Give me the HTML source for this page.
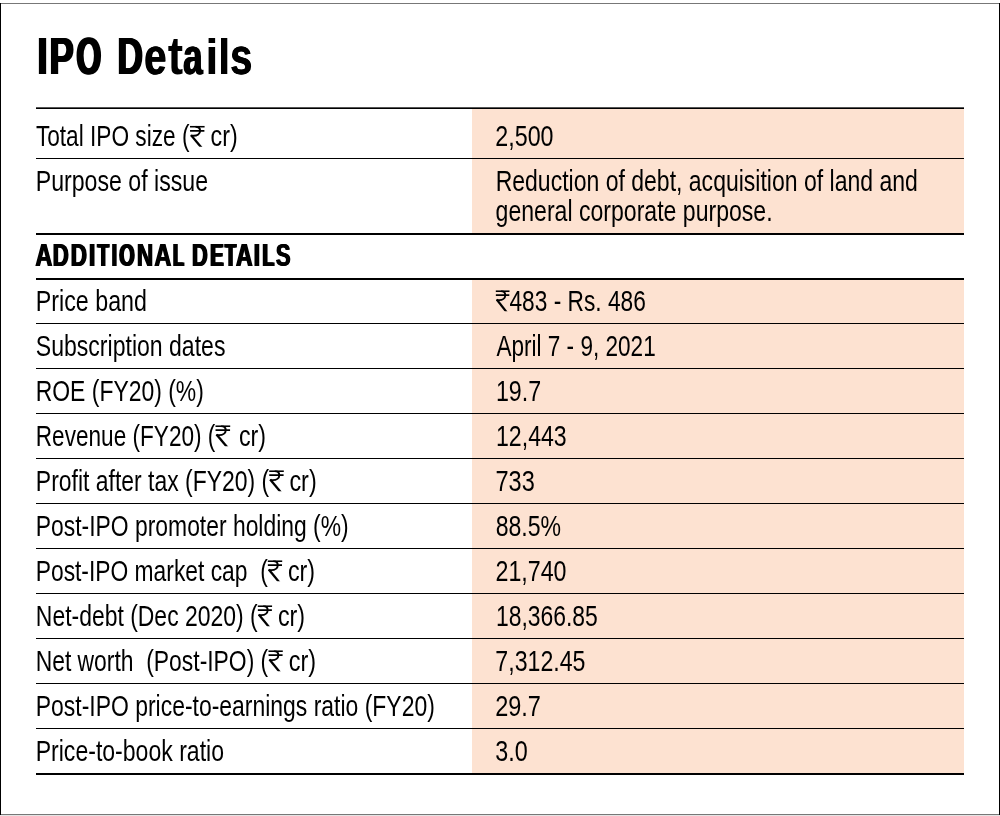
<!DOCTYPE html><html><head><meta charset="utf-8"><title>IPO Details</title><style>
html,body{margin:0;padding:0;background:#fff}
body{width:1000px;height:816px;position:relative;overflow:hidden;font-family:"Liberation Sans",sans-serif;color:#000}
.t{position:absolute;left:0;top:0;white-space:pre;line-height:1;display:block}
.r{position:absolute;left:0;top:0;display:block}
.l{position:absolute;left:36px;width:928px;background:#000}
.p{position:absolute;left:472px;width:492px;background:#fde2d1}
#w{position:absolute;left:0;top:0;width:1000px;height:816px;will-change:transform}
</style></head><body><div id="w">
<div style="position:absolute;left:0;top:3px;width:1000px;height:1px;background:#777"></div>
<div style="position:absolute;left:0;top:814px;width:1000px;height:1px;background:#777"></div>
<div style="position:absolute;left:0;top:815px;width:1000px;height:1px;background:#e4e4e4"></div>
<div style="position:absolute;left:0;top:3px;width:1px;height:812px;background:#000"></div>
<div style="position:absolute;left:999px;top:3px;width:1px;height:812px;background:#000"></div>
<div class="p" style="top:109px;height:124px"></div>
<div class="p" style="top:280px;height:493px"></div>
<div class="l" style="top:107px;height:1px;background:#555"></div><div class="l" style="top:108px;height:1px"></div>
<div class="l" style="top:158px;height:1px"></div>
<div class="l" style="top:233px;height:2px"></div>
<div class="l" style="top:278px;height:2px"></div>
<div class="l" style="top:323px;height:1px"></div>
<div class="l" style="top:368px;height:1px"></div>
<div class="l" style="top:413px;height:1px"></div>
<div class="l" style="top:458px;height:1px"></div>
<div class="l" style="top:503px;height:1px"></div>
<div class="l" style="top:548px;height:1px"></div>
<div class="l" style="top:593px;height:1px"></div>
<div class="l" style="top:638px;height:1px"></div>
<div class="l" style="top:683px;height:1px"></div>
<div class="l" style="top:728px;height:1px"></div>
<div class="l" style="top:773px;height:2px"></div>
<span class="t" style="font-size:29.40px;transform-origin:0 24.89px;transform:translate(35.78px,166.31px) scale(0.7867,1.0000)">Purpose of issue</span>
<span class="t" style="font-size:29.40px;transform-origin:0 24.89px;transform:translate(35.83px,285.71px) scale(0.7909,1.0000)">Price band</span>
<span class="t" style="font-size:29.40px;transform-origin:0 24.89px;transform:translate(35.80px,330.71px) scale(0.7843,1.0000)">Subscription dates</span>
<span class="t" style="font-size:29.40px;transform-origin:0 24.89px;transform:translate(35.72px,375.71px) scale(0.7800,1.0000)">ROE (FY20) (%)</span>
<span class="t" style="font-size:29.40px;transform-origin:0 24.89px;transform:translate(35.83px,510.71px) scale(0.7785,1.0000)">Post-IPO promoter holding (%)</span>
<span class="t" style="font-size:29.40px;transform-origin:0 24.89px;transform:translate(35.75px,690.71px) scale(0.7806,1.0000)">Post-IPO price-to-earnings ratio (FY20)</span>
<span class="t" style="font-size:29.40px;transform-origin:0 24.89px;transform:translate(35.70px,735.71px) scale(0.7842,1.0000)">Price-to-book ratio</span>
<span class="t" style="font-size:29.40px;transform-origin:0 24.89px;transform:translate(495.35px,121.31px) scale(0.7911,1.0000)">2,500</span>
<span class="t" style="font-size:29.40px;transform-origin:0 24.89px;transform:translate(495.64px,166.31px) scale(0.7830,1.0000)">Reduction of debt, acquisition of land and</span>
<span class="t" style="font-size:29.40px;transform-origin:0 24.89px;transform:translate(495.56px,196.31px) scale(0.7850,1.0000)">general corporate purpose.</span>
<span class="t" style="font-size:29.40px;transform-origin:0 24.89px;transform:translate(496.39px,330.71px) scale(0.7678,1.0000)">April 7 - 9, 2021</span>
<span class="t" style="font-size:29.40px;transform-origin:0 24.89px;transform:translate(495.89px,375.71px) scale(0.7915,1.0000)">19.7</span>
<span class="t" style="font-size:29.40px;transform-origin:0 24.89px;transform:translate(495.97px,420.71px) scale(0.7871,1.0000)">12,443</span>
<span class="t" style="font-size:29.40px;transform-origin:0 24.89px;transform:translate(495.53px,465.71px) scale(0.8011,1.0000)">733</span>
<span class="t" style="font-size:29.40px;transform-origin:0 24.89px;transform:translate(495.64px,510.71px) scale(0.7856,1.0000)">88.5%</span>
<span class="t" style="font-size:29.40px;transform-origin:0 24.89px;transform:translate(495.46px,555.71px) scale(0.7902,1.0000)">21,740</span>
<span class="t" style="font-size:29.40px;transform-origin:0 24.89px;transform:translate(495.97px,600.71px) scale(0.7790,1.0000)">18,366.85</span>
<span class="t" style="font-size:29.40px;transform-origin:0 24.89px;transform:translate(495.37px,645.71px) scale(0.7873,1.0000)">7,312.45</span>
<span class="t" style="font-size:29.40px;transform-origin:0 24.89px;transform:translate(495.19px,690.71px) scale(0.7994,1.0000)">29.7</span>
<span class="t" style="font-size:29.40px;transform-origin:0 24.89px;transform:translate(495.37px,735.71px) scale(0.7944,1.0000)">3.0</span>
<span class="t" style="font-size:29.40px;transform-origin:0 24.89px;transform:translate(35.91px,121.31px) scale(0.7704,1.0000)">Total IPO size (</span>
<svg class="r" role="img" aria-label="Rs" width="16.22" height="20.6" viewBox="0 0 15.5 20.6" preserveAspectRatio="none" style="transform:translate(189.22px,125.80px)"><g fill="none" stroke="#000"><path d="M0.75,0.9H14.7M0.8,5H14.5" stroke-width="1.75"/><path d="M6,0.9C9.4,0.9 10.4,3 10.4,5C10.4,8 7.6,9.9 4.2,9.9H1.5" stroke-width="1.9"/><path d="M1.7,9.3L12,22.2" stroke-width="2.25"/></g></svg>
<span class="t" style="font-size:29.40px;transform-origin:0 24.89px;transform:translate(210.54px,121.31px) scale(0.7918,1.0000)">cr)</span>
<span class="t" style="font-size:29.40px;transform-origin:0 24.89px;transform:translate(35.77px,420.71px) scale(0.7690,1.0000)">Revenue (FY20) (</span>
<svg class="r" role="img" aria-label="Rs" width="16.44" height="20.6" viewBox="0 0 15.5 20.6" preserveAspectRatio="none" style="transform:translate(214.70px,425.20px)"><g fill="none" stroke="#000"><path d="M0.75,0.9H14.7M0.8,5H14.5" stroke-width="1.75"/><path d="M6,0.9C9.4,0.9 10.4,3 10.4,5C10.4,8 7.6,9.9 4.2,9.9H1.5" stroke-width="1.9"/><path d="M1.7,9.3L12,22.2" stroke-width="2.25"/></g></svg>
<span class="t" style="font-size:29.40px;transform-origin:0 24.89px;transform:translate(238.99px,420.71px) scale(0.7904,1.0000)">cr)</span>
<span class="t" style="font-size:29.40px;transform-origin:0 24.89px;transform:translate(35.84px,465.71px) scale(0.7807,1.0000)">Profit after tax (FY20) (</span>
<svg class="r" role="img" aria-label="Rs" width="16.22" height="20.6" viewBox="0 0 15.5 20.6" preserveAspectRatio="none" style="transform:translate(268.42px,470.20px)"><g fill="none" stroke="#000"><path d="M0.75,0.9H14.7M0.8,5H14.5" stroke-width="1.75"/><path d="M6,0.9C9.4,0.9 10.4,3 10.4,5C10.4,8 7.6,9.9 4.2,9.9H1.5" stroke-width="1.9"/><path d="M1.7,9.3L12,22.2" stroke-width="2.25"/></g></svg>
<span class="t" style="font-size:29.40px;transform-origin:0 24.89px;transform:translate(289.41px,465.71px) scale(0.7962,1.0000)">cr)</span>
<span class="t" style="font-size:29.40px;transform-origin:0 24.89px;transform:translate(35.72px,555.71px) scale(0.7763,1.0000)">Post-IPO market cap  (</span>
<svg class="r" role="img" aria-label="Rs" width="16.00" height="20.6" viewBox="0 0 15.5 20.6" preserveAspectRatio="none" style="transform:translate(267.03px,560.20px)"><g fill="none" stroke="#000"><path d="M0.75,0.9H14.7M0.8,5H14.5" stroke-width="1.75"/><path d="M6,0.9C9.4,0.9 10.4,3 10.4,5C10.4,8 7.6,9.9 4.2,9.9H1.5" stroke-width="1.9"/><path d="M1.7,9.3L12,22.2" stroke-width="2.25"/></g></svg>
<span class="t" style="font-size:29.40px;transform-origin:0 24.89px;transform:translate(287.94px,555.71px) scale(0.7932,1.0000)">cr)</span>
<span class="t" style="font-size:29.40px;transform-origin:0 24.89px;transform:translate(35.84px,600.71px) scale(0.7803,1.0000)">Net-debt (Dec 2020) (</span>
<svg class="r" role="img" aria-label="Rs" width="15.89" height="20.6" viewBox="0 0 15.5 20.6" preserveAspectRatio="none" style="transform:translate(257.03px,605.20px)"><g fill="none" stroke="#000"><path d="M0.75,0.9H14.7M0.8,5H14.5" stroke-width="1.75"/><path d="M6,0.9C9.4,0.9 10.4,3 10.4,5C10.4,8 7.6,9.9 4.2,9.9H1.5" stroke-width="1.9"/><path d="M1.7,9.3L12,22.2" stroke-width="2.25"/></g></svg>
<span class="t" style="font-size:29.40px;transform-origin:0 24.89px;transform:translate(277.94px,600.71px) scale(0.7932,1.0000)">cr)</span>
<span class="t" style="font-size:29.40px;transform-origin:0 24.89px;transform:translate(35.66px,645.71px) scale(0.7782,1.0000)">Net worth  (Post-IPO) (</span>
<svg class="r" role="img" aria-label="Rs" width="15.89" height="20.6" viewBox="0 0 15.5 20.6" preserveAspectRatio="none" style="transform:translate(267.73px,650.20px)"><g fill="none" stroke="#000"><path d="M0.75,0.9H14.7M0.8,5H14.5" stroke-width="1.75"/><path d="M6,0.9C9.4,0.9 10.4,3 10.4,5C10.4,8 7.6,9.9 4.2,9.9H1.5" stroke-width="1.9"/><path d="M1.7,9.3L12,22.2" stroke-width="2.25"/></g></svg>
<span class="t" style="font-size:29.40px;transform-origin:0 24.89px;transform:translate(288.68px,645.71px) scale(0.7993,1.0000)">cr)</span>
<svg class="r" role="img" aria-label="Rs" width="15.22" height="20.6" viewBox="0 0 15.5 20.6" preserveAspectRatio="none" style="transform:translate(495.06px,290.20px)"><g fill="none" stroke="#000"><path d="M0.75,0.9H14.7M0.8,5H14.5" stroke-width="1.75"/><path d="M6,0.9C9.4,0.9 10.4,3 10.4,5C10.4,8 7.6,9.9 4.2,9.9H1.5" stroke-width="1.9"/><path d="M1.7,9.3L12,22.2" stroke-width="2.25"/></g></svg>
<span class="t" style="font-size:29.40px;transform-origin:0 24.89px;transform:translate(509.44px,285.71px) scale(0.7728,1.0000)">483 - Rs. 486</span>
<span class="t" style="font-size:31.40px;font-weight:bold;text-shadow:0.86px 0 0 #000,-0.86px 0 0 #000;transform-origin:0 26.58px;transform:translate(35.40px,239.72px) scale(0.7485,1.0000)">A</span>
<span class="t" style="font-size:31.40px;font-weight:bold;text-shadow:1.05px 0 0 #000,-1.05px 0 0 #000;transform-origin:0 26.58px;transform:translate(52.80px,239.72px) scale(0.7042,1.0000)">D</span>
<span class="t" style="font-size:31.40px;font-weight:bold;text-shadow:1.04px 0 0 #000,-1.04px 0 0 #000;transform-origin:0 26.58px;transform:translate(70.86px,239.72px) scale(0.7138,1.0000)">D</span>
<span class="t" style="font-size:31.40px;font-weight:bold;transform-origin:0 26.58px;transform:translate(87.50px,239.72px) scale(1.0598,1.0000)">I</span>
<span class="t" style="font-size:31.40px;font-weight:bold;text-shadow:1.54px 0 0 #000,-1.54px 0 0 #000;transform-origin:0 26.58px;transform:translate(97.43px,239.72px) scale(0.6110,1.0000)">T</span>
<span class="t" style="font-size:31.40px;font-weight:bold;text-shadow:0.04px 0 0 #000,-0.04px 0 0 #000;transform-origin:0 26.58px;transform:translate(110.84px,239.72px) scale(0.8383,1.0000)">I</span>
<span class="t" style="font-size:31.40px;font-weight:bold;text-shadow:1.43px 0 0 #000,-1.43px 0 0 #000;transform-origin:0 26.58px;transform:translate(119.25px,239.72px) scale(0.6301,1.0000)">O</span>
<span class="t" style="font-size:31.40px;font-weight:bold;text-shadow:0.99px 0 0 #000,-0.99px 0 0 #000;transform-origin:0 26.58px;transform:translate(136.90px,239.72px) scale(0.7193,1.0000)">N</span>
<span class="t" style="font-size:31.40px;font-weight:bold;text-shadow:0.86px 0 0 #000,-0.86px 0 0 #000;transform-origin:0 26.58px;transform:translate(154.40px,239.72px) scale(0.7485,1.0000)">A</span>
<span class="t" style="font-size:31.40px;font-weight:bold;text-shadow:1.76px 0 0 #000,-1.76px 0 0 #000;transform-origin:0 26.58px;transform:translate(173.07px,239.72px) scale(0.5743,1.0000)">L </span>
<span class="t" style="font-size:31.40px;font-weight:bold;text-shadow:1.10px 0 0 #000,-1.10px 0 0 #000;transform-origin:0 26.58px;transform:translate(192.06px,239.72px) scale(0.6940,1.0000)">D</span>
<span class="t" style="font-size:31.40px;font-weight:bold;text-shadow:1.40px 0 0 #000,-1.40px 0 0 #000;transform-origin:0 26.58px;transform:translate(210.25px,239.72px) scale(0.6391,1.0000)">E</span>
<span class="t" style="font-size:31.40px;font-weight:bold;text-shadow:1.74px 0 0 #000,-1.74px 0 0 #000;transform-origin:0 26.58px;transform:translate(225.09px,239.72px) scale(0.5801,1.0000)">T</span>
<span class="t" style="font-size:31.40px;font-weight:bold;text-shadow:0.95px 0 0 #000,-0.95px 0 0 #000;transform-origin:0 26.58px;transform:translate(236.01px,239.72px) scale(0.7299,1.0000)">A</span>
<span class="t" style="font-size:31.40px;font-weight:bold;transform-origin:0 26.58px;transform:translate(252.23px,239.72px) scale(1.0558,1.0000)">I</span>
<span class="t" style="font-size:31.40px;font-weight:bold;text-shadow:1.58px 0 0 #000,-1.58px 0 0 #000;transform-origin:0 26.58px;transform:translate(262.45px,239.72px) scale(0.6123,1.0000)">L</span>
<span class="t" style="font-size:31.40px;font-weight:bold;text-shadow:1.04px 0 0 #000,-1.04px 0 0 #000;transform-origin:0 26.58px;transform:translate(275.89px,239.72px) scale(0.6999,1.0000)">S</span>
<span class="t" style="font-size:51.60px;font-weight:bold;transform-origin:0 43.68px;transform:translate(35.40px,30.52px) scale(0.9771,1.0000)">I</span>
<span class="t" style="font-size:51.60px;font-weight:bold;text-shadow:1.36px 0 0 #000,-1.36px 0 0 #000;transform-origin:0 43.68px;transform:translate(49.58px,30.52px) scale(0.7050,1.0000)">P</span>
<span class="t" style="font-size:51.60px;font-weight:bold;text-shadow:2.04px 0 0 #000,-2.04px 0 0 #000;transform-origin:0 43.68px;transform:translate(76.49px,30.52px) scale(0.6139,1.0000)">O </span>
<span class="t" style="font-size:51.60px;font-weight:bold;text-shadow:1.51px 0 0 #000,-1.51px 0 0 #000;transform-origin:0 43.68px;transform:translate(117.42px,30.52px) scale(0.6818,1.0000)">D</span>
<span class="t" style="font-size:51.60px;font-weight:bold;text-shadow:0.59px 0 0 #000,-0.59px 0 0 #000;transform-origin:0 43.68px;transform:translate(144.29px,30.52px) scale(0.7737,1.0000)">e</span>
<span class="t" style="font-size:51.60px;font-weight:bold;transform-origin:0 43.68px;transform:translate(167.71px,30.52px) scale(0.8932,1.0250)">t</span>
<span class="t" style="font-size:51.60px;font-weight:bold;text-shadow:1.22px 0 0 #000,-1.22px 0 0 #000;transform-origin:0 43.68px;transform:translate(183.29px,30.52px) scale(0.6733,1.0000)">a</span>
<span class="t" style="font-size:51.60px;font-weight:bold;transform-origin:0 43.68px;transform:translate(205.35px,30.52px) scale(0.9250,0.9745)">i</span>
<span class="t" style="font-size:51.60px;font-weight:bold;transform-origin:0 43.68px;transform:translate(217.79px,30.52px) scale(0.8938,0.9745)">l</span>
<span class="t" style="font-size:51.60px;font-weight:bold;text-shadow:0.65px 0 0 #000,-0.65px 0 0 #000;transform-origin:0 43.68px;transform:translate(230.18px,30.52px) scale(0.7661,1.0000)">s</span>
</div></body></html>
